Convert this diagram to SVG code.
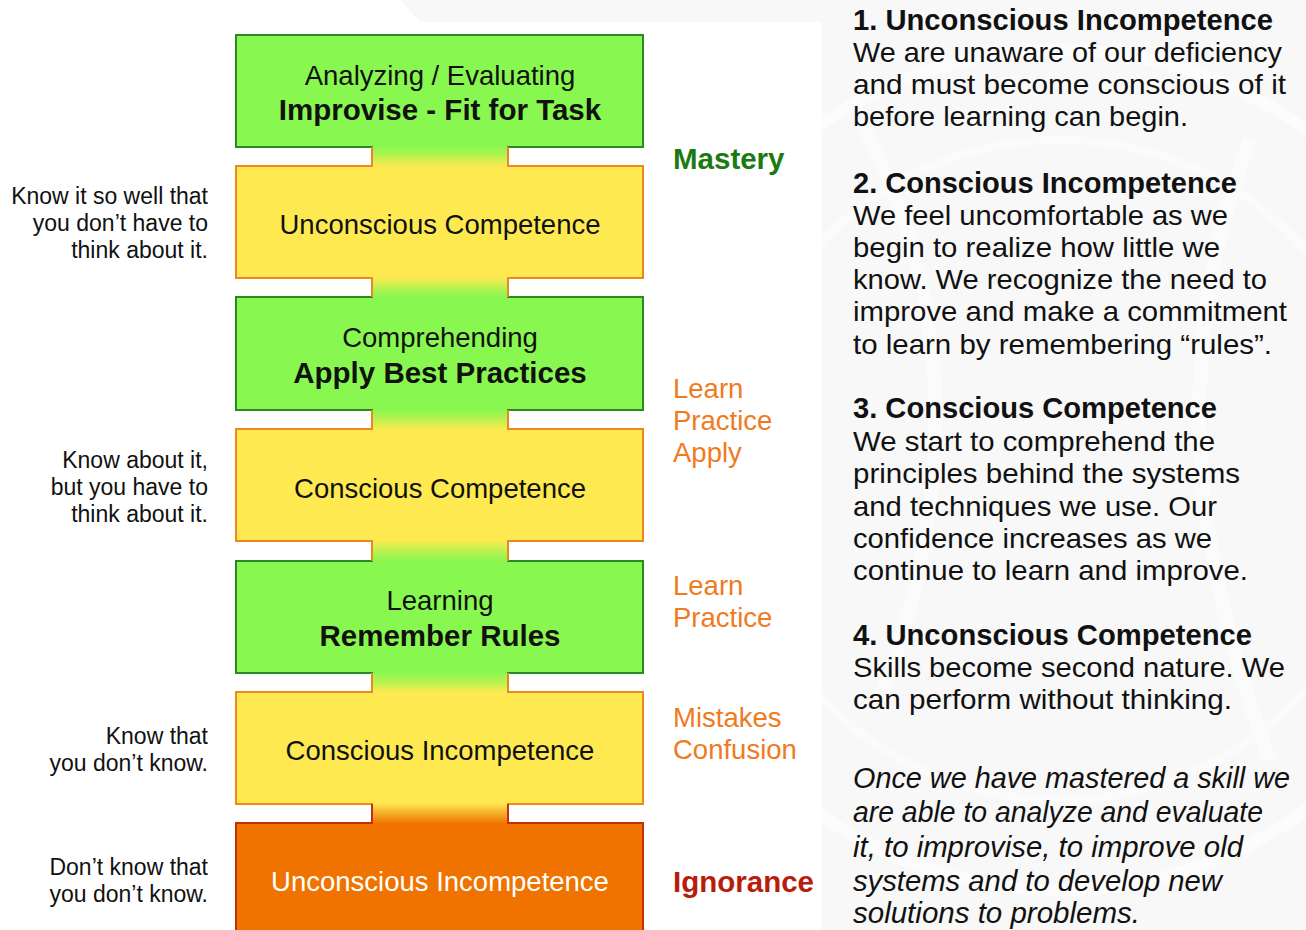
<svg xmlns="http://www.w3.org/2000/svg" width="1306" height="930" viewBox="0 0 1306 930">
  <style>
    .box-text { font-family: "Liberation Sans", Arial, sans-serif; font-size: 27.5px; fill: #111; text-anchor: middle; }
    .box-bold { font-weight: bold; font-size: 29.5px; }
    .side { font-family: "Liberation Sans", Arial, sans-serif; font-size: 23px; fill: #111; text-anchor: end; }
    .tag { font-family: "Liberation Sans", Arial, sans-serif; font-size: 27.5px; fill: #f07a1e; }
    .tag-bold { font-weight: bold; font-size: 29.5px; }
    .desc { font-family: "Liberation Sans", Arial, sans-serif; font-size: 28.3px; fill: #111; }
    .desc-head { font-weight: bold; font-size: 29.5px; }
    .desc-italic { font-style: italic; font-size: 29px; }
    .green { fill: #88f850; stroke: #2a8a22; stroke-width: 2; }
    .yellow { fill: #feea50; stroke: #f0861e; stroke-width: 2; }
    .orange { fill: #f07300; stroke: #c2300e; stroke-width: 2; }
    .neck-side { stroke: #f0861e; stroke-width: 2; }
    .neck-side-red { stroke: #c2300e; stroke-width: 2; }
  </style>
  <defs>
    <linearGradient id="gy" x1="0" y1="0" x2="0" y2="1">
      <stop offset="0" stop-color="#88f850"/>
      <stop offset="0.35" stop-color="#a8f450"/>
      <stop offset="1" stop-color="#feea50"/>
    </linearGradient>
    <linearGradient id="yg" x1="0" y1="0" x2="0" y2="1">
      <stop offset="0" stop-color="#feea50"/>
      <stop offset="0.65" stop-color="#a8f450"/>
      <stop offset="1" stop-color="#88f850"/>
    </linearGradient>
    <linearGradient id="yo" x1="0" y1="0" x2="0" y2="1">
      <stop offset="0" stop-color="#feea50"/>
      <stop offset="0.4" stop-color="#f8b830"/>
      <stop offset="1" stop-color="#f07300"/>
    </linearGradient>
  </defs>

  <!-- page background with faint emblem -->
  <rect x="0" y="0" width="1306" height="930" fill="#ffffff"/>
  <g id="emblem" fill="none">
    <path d="M400 0 L1306 0 L1306 930 L822 930 L822 22 L420 22 Z" fill="#f8f8f8"/>
    <circle cx="1060" cy="470" r="420" stroke="#fcfcfc" stroke-width="12"/>
    <circle cx="1060" cy="470" r="330" stroke="#fbfbfb" stroke-width="8"/>
    <path d="M860 120 Q1000 380 880 700" stroke="#fbfbfb" stroke-width="14"/>
    <path d="M1250 140 Q1140 420 1270 760" stroke="#fbfbfb" stroke-width="14"/>
  </g>
  <rect x="0" y="22" width="822" height="908" fill="#ffffff"/>

  <!-- stage boxes -->
  <g id="stage-improvise">
    <rect class="green" x="236" y="35" width="407" height="112"/>
    <text class="box-text" x="440" y="85">Analyzing / Evaluating</text>
    <text class="box-text box-bold" x="440" y="120">Improvise - Fit for Task</text>
  </g>
  <g id="stage-unconscious-competence">
    <rect class="yellow" x="236" y="166" width="407" height="112"/>
    <text class="box-text" x="440" y="234">Unconscious Competence</text>
  </g>
  <g id="stage-comprehending">
    <rect class="green" x="236" y="297" width="407" height="113"/>
    <text class="box-text" x="440" y="347">Comprehending</text>
    <text class="box-text box-bold" x="440" y="383">Apply Best Practices</text>
  </g>
  <g id="stage-conscious-competence">
    <rect class="yellow" x="236" y="429" width="407" height="112"/>
    <text class="box-text" x="440" y="498">Conscious Competence</text>
  </g>
  <g id="stage-learning">
    <rect class="green" x="236" y="561" width="407" height="112"/>
    <text class="box-text" x="440" y="610">Learning</text>
    <text class="box-text box-bold" x="440" y="646">Remember Rules</text>
  </g>
  <g id="stage-conscious-incompetence">
    <rect class="yellow" x="236" y="692" width="407" height="112"/>
    <text class="box-text" x="440" y="760">Conscious Incompetence</text>
  </g>
  <g id="stage-unconscious-incompetence">
    <rect class="orange" x="236" y="823" width="407" height="120"/>
    <text class="box-text" x="440" y="891" style="fill:#ffffff">Unconscious Incompetence</text>
  </g>

  <!-- connecting necks between stages -->
  <g id="connectors">
    <rect x="373" y="146" width="134" height="21" fill="url(#gy)"/>
    <line class="neck-side" x1="372" y1="147" x2="372" y2="166"/>
    <line class="neck-side" x1="508" y1="147" x2="508" y2="166"/>

    <rect x="373" y="277" width="134" height="21" fill="url(#yg)"/>
    <line class="neck-side" x1="372" y1="278" x2="372" y2="297"/>
    <line class="neck-side" x1="508" y1="278" x2="508" y2="297"/>

    <rect x="373" y="409" width="134" height="21" fill="url(#gy)"/>
    <line class="neck-side" x1="372" y1="410" x2="372" y2="429"/>
    <line class="neck-side" x1="508" y1="410" x2="508" y2="429"/>

    <rect x="373" y="540" width="134" height="22" fill="url(#yg)"/>
    <line class="neck-side" x1="372" y1="541" x2="372" y2="561"/>
    <line class="neck-side" x1="508" y1="541" x2="508" y2="561"/>

    <rect x="373" y="672" width="134" height="21" fill="url(#gy)"/>
    <line class="neck-side" x1="372" y1="673" x2="372" y2="692"/>
    <line class="neck-side" x1="508" y1="673" x2="508" y2="692"/>

    <rect x="373" y="803" width="134" height="21" fill="url(#yo)"/>
    <line class="neck-side-red" x1="372" y1="804" x2="372" y2="823"/>
    <line class="neck-side-red" x1="508" y1="804" x2="508" y2="823"/>
  </g>

  <!-- left-hand notes -->
  <g id="note-unconscious-competence">
    <text class="side" x="208" y="204">Know it so well that</text>
    <text class="side" x="208" y="231">you don’t have to</text>
    <text class="side" x="208" y="258">think about it.</text>
  </g>
  <g id="note-conscious-competence">
    <text class="side" x="208" y="468">Know about it,</text>
    <text class="side" x="208" y="495">but you have to</text>
    <text class="side" x="208" y="522">think about it.</text>
  </g>
  <g id="note-conscious-incompetence">
    <text class="side" x="208" y="744">Know that</text>
    <text class="side" x="208" y="771">you don’t know.</text>
  </g>
  <g id="note-unconscious-incompetence">
    <text class="side" x="208" y="875">Don’t know that</text>
    <text class="side" x="208" y="902">you don’t know.</text>
  </g>

  <!-- right-hand stage tags -->
  <g id="tag-mastery">
    <text class="tag tag-bold" x="673" y="169" style="fill:#1c7a12">Mastery</text>
  </g>
  <g id="tag-apply">
    <text class="tag" x="673" y="398">Learn</text>
    <text class="tag" x="673" y="430">Practice</text>
    <text class="tag" x="673" y="462">Apply</text>
  </g>
  <g id="tag-practice">
    <text class="tag" x="673" y="595">Learn</text>
    <text class="tag" x="673" y="627">Practice</text>
  </g>
  <g id="tag-confusion">
    <text class="tag" x="673" y="727">Mistakes</text>
    <text class="tag" x="673" y="759">Confusion</text>
  </g>
  <g id="tag-ignorance">
    <text class="tag tag-bold" x="673" y="892" style="fill:#b81c0c">Ignorance</text>
  </g>

  <!-- stage descriptions -->
  <g id="desc-1">
    <text class="desc desc-head" x="853" y="30" textLength="420" lengthAdjust="spacingAndGlyphs">1. Unconscious Incompetence</text>
    <text class="desc" x="853" y="62" textLength="429" lengthAdjust="spacingAndGlyphs">We are unaware of our deficiency</text>
    <text class="desc" x="853" y="94" textLength="433" lengthAdjust="spacingAndGlyphs">and must become conscious of it</text>
    <text class="desc" x="853" y="126" textLength="335" lengthAdjust="spacingAndGlyphs">before learning can begin.</text>
  </g>
  <g id="desc-2">
    <text class="desc desc-head" x="853" y="193" textLength="384" lengthAdjust="spacingAndGlyphs">2. Conscious Incompetence</text>
    <text class="desc" x="853" y="225" textLength="375" lengthAdjust="spacingAndGlyphs">We feel uncomfortable as we</text>
    <text class="desc" x="853" y="257" textLength="367" lengthAdjust="spacingAndGlyphs">begin to realize how little we</text>
    <text class="desc" x="853" y="289" textLength="414" lengthAdjust="spacingAndGlyphs">know. We recognize the need to</text>
    <text class="desc" x="853" y="321" textLength="434" lengthAdjust="spacingAndGlyphs">improve and make a commitment</text>
    <text class="desc" x="853" y="354" textLength="419" lengthAdjust="spacingAndGlyphs">to learn by remembering “rules”.</text>
  </g>
  <g id="desc-3">
    <text class="desc desc-head" x="853" y="418" textLength="364" lengthAdjust="spacingAndGlyphs">3. Conscious Competence</text>
    <text class="desc" x="853" y="451" textLength="362" lengthAdjust="spacingAndGlyphs">We start to comprehend the</text>
    <text class="desc" x="853" y="483" textLength="387" lengthAdjust="spacingAndGlyphs">principles behind the systems</text>
    <text class="desc" x="853" y="516" textLength="364" lengthAdjust="spacingAndGlyphs">and techniques we use. Our</text>
    <text class="desc" x="853" y="548" textLength="359" lengthAdjust="spacingAndGlyphs">confidence increases as we</text>
    <text class="desc" x="853" y="580" textLength="395" lengthAdjust="spacingAndGlyphs">continue to learn and improve.</text>
  </g>
  <g id="desc-4">
    <text class="desc desc-head" x="853" y="645" textLength="399" lengthAdjust="spacingAndGlyphs">4. Unconscious Competence</text>
    <text class="desc" x="853" y="677" textLength="432" lengthAdjust="spacingAndGlyphs">Skills become second nature. We</text>
    <text class="desc" x="853" y="709" textLength="379" lengthAdjust="spacingAndGlyphs">can perform without thinking.</text>
  </g>
  <g id="desc-mastery">
    <text class="desc desc-italic" x="853" y="788" textLength="437" lengthAdjust="spacingAndGlyphs">Once we have mastered a skill we</text>
    <text class="desc desc-italic" x="853" y="822" textLength="410" lengthAdjust="spacingAndGlyphs">are able to analyze and evaluate</text>
    <text class="desc desc-italic" x="853" y="857" textLength="390" lengthAdjust="spacingAndGlyphs">it, to improvise, to improve old</text>
    <text class="desc desc-italic" x="853" y="891" textLength="369" lengthAdjust="spacingAndGlyphs">systems and to develop new</text>
    <text class="desc desc-italic" x="853" y="923" textLength="287" lengthAdjust="spacingAndGlyphs">solutions to problems.</text>
  </g>
</svg>
